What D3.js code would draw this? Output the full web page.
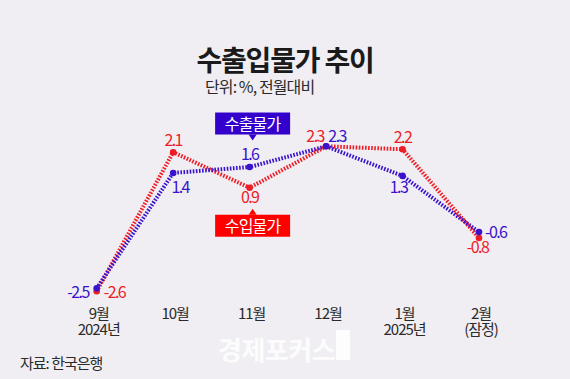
<!DOCTYPE html>
<html><head><meta charset="utf-8">
<script src="https://cdn.jsdelivr.net/npm/d3@7"></script>
<style>
html,body{margin:0;padding:0;background:#f0eef3;}
svg text{font-family:"Noto Sans CJK KR","Noto Sans",sans-serif;}
</style></head>
<body>
<script>
const months = ["9월","10월","11월","12월","1월","2월"];
const subLabels = ["2024년","","","","2025년","(잠정)"];
const exportPrices = [-2.5, 1.4, 1.6, 2.3, 1.3, -0.6];
const importPrices = [-2.6, 2.1, 0.9, 2.3, 2.2, -0.8];
const seriesNames = ["수출물가","수입물가"];

const W = 570, H = 379;
const svg = d3.select("body").append("svg").attr("width", W).attr("height", H);
svg.append("rect").attr("width", W).attr("height", H).attr("fill", "#f0eef3");

const x = d3.scalePoint().domain(months).range([96.7, 479]);
const y = d3.scaleLinear().domain([-2.6, 2.3]).range([291.3, 146.3]);

const BLUE = "#3a12cc", RED = "#ee1c24";

// title
svg.append("text").attr("x", 285).attr("y", 71).attr("text-anchor", "middle")
  .attr("font-size", 28).attr("font-weight", 700).attr("fill", "#1a1a1a")
  .attr("letter-spacing", -1.2).text("수출입물가 추이");
svg.append("text").attr("x", 205).attr("y", 93)
  .attr("font-size", 16).attr("fill", "#2a2a2a").attr("letter-spacing", -0.9)
  .text("단위: %, 전월대비");

// lines
const line = d3.line().x((d, i) => x(months[i])).y(d => y(d));
const series = [
  {name: seriesNames[1], values: importPrices, color: RED},
  {name: seriesNames[0], values: exportPrices, color: BLUE}
];
series.forEach(s => {
  svg.append("path").datum(s.values).attr("d", line)
    .attr("fill", "none").attr("stroke", s.color).attr("stroke-width", 4)
    .attr("stroke-dasharray", "1.6 1.5");
});
series.forEach(s => {
  svg.selectAll(null).data(s.values).enter().append("circle")
    .attr("cx", (d, i) => x(months[i])).attr("cy", d => y(d)).attr("r", 3.3)
    .attr("fill", s.color);
});

// value labels placement [dx, dy, anchor]
const expPlace = [[-8, 10, "end"], [7, 20.5, "middle"], [0, -7, "middle"], [11, -4.8, "middle"], [-4, 17, "middle"], [6, 6, "start"]];
const impPlace = [[7, 7, "start"], [0, -6, "middle"], [0, 15, "middle"], [-11, -4.8, "middle"], [0, -6, "middle"], [-1.5, 15, "middle"]];
function fmt(v){ return (v < 0 ? "-" : "") + Math.abs(v).toFixed(1); }
[[exportPrices, expPlace, BLUE], [importPrices, impPlace, RED]].forEach(([vals, pl, col]) => {
  svg.selectAll(null).data(vals).enter().append("text")
    .attr("x", (d, i) => x(months[i]) + pl[i][0])
    .attr("y", (d, i) => y(d) + pl[i][1])
    .attr("text-anchor", (d, i) => pl[i][2])
    .attr("font-size", 16).attr("letter-spacing", -1.6).attr("fill", col)
    .text(d => fmt(d));
});

// series tag boxes
function tag(label, color, cx, top, pointerDown) {
  const g = svg.append("g");
  const w = 75, h = 22;
  g.append("rect").attr("x", cx - w / 2).attr("y", top).attr("width", w).attr("height", h).attr("fill", color);
  const tri = pointerDown
    ? [[cx - 4, top + h], [cx + 4, top + h], [cx, top + h + 6]]
    : [[cx - 4, top], [cx + 4, top], [cx, top - 6]];
  g.append("path").attr("d", d3.line()(tri) + "Z").attr("fill", color);
  g.append("text").attr("x", cx).attr("y", top + 17).attr("text-anchor", "middle")
    .attr("font-size", 16).attr("letter-spacing", -0.8).attr("fill", "#fff").text(label);
}
const nov = x(months[2]) + 3;
tag(seriesNames[0], "#3300cc", nov, y(exportPrices[2]) - 54.5, true);
tag(seriesNames[1], "#ff0000", nov, y(importPrices[2]) + 27, false);

// axis labels (two lines per tick in one text)
const tick = svg.selectAll(null).data(months).enter().append("text")
  .attr("text-anchor", "middle").attr("font-size", 15).attr("letter-spacing", -1)
  .attr("fill", "#2a2a2a");
tick.append("tspan").attr("x", d => x(d) + 2).attr("y", 319).text(d => d);
tick.append("tspan").attr("x", d => x(d) + 2).attr("dy", 16)
  .text((d, i) => subLabels[i]);

// source
svg.append("text").attr("x", 20).attr("y", 369).attr("font-size", 15)
  .attr("letter-spacing", -1).attr("fill", "#2a2a2a").text("자료: 한국은행");

// watermark
svg.append("text").attr("x", 218).attr("y", 360).attr("font-size", 26).attr("font-weight", 700)
  .attr("fill", "#ffffff").attr("opacity", 0.85).attr("letter-spacing", -0.5).text("경제포커스");
svg.append("rect").attr("x", 336).attr("y", 330).attr("width", 14).attr("height", 30)
  .attr("fill", "#ffffff").attr("opacity", 0.85);
</script>
</body></html>
